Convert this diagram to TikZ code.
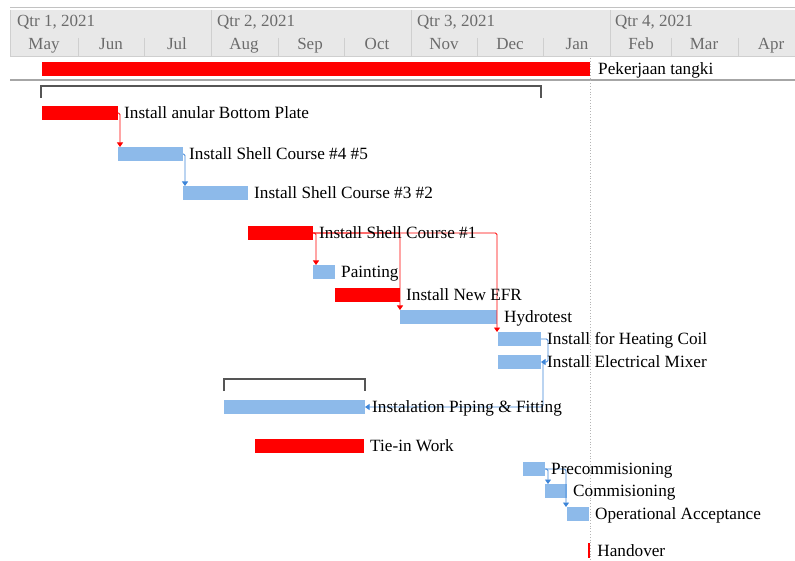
\documentclass[tikz,border=0pt]{standalone}
\usepackage{fontspec}
\setmainfont{Liberation Serif}
\usetikzlibrary{arrows.meta}
\definecolor{barred}{HTML}{FF0000}
\definecolor{barblue}{HTML}{8DBAEA}
\definecolor{linkblue}{HTML}{3D85D8}
\definecolor{hdrbg}{HTML}{E8E8E8}
\definecolor{hdrline}{HTML}{CFCFCF}
\definecolor{hdrtop}{HTML}{C2C2C2}
\definecolor{hdrtext}{HTML}{6B6B6B}
\definecolor{sepline}{HTML}{A6A6A6}
\definecolor{dotline}{HTML}{B4B4B4}
\definecolor{brk}{HTML}{555555}
\begin{document}
\begin{tikzpicture}[x=1pt,y=-1pt,
 bar/.style={rectangle, inner sep=0pt, outer sep=0pt, minimum height=14pt, anchor=north west, draw=none},
 redbar/.style={bar, fill=barred},
 bluebar/.style={bar, fill=barblue},
 lbl/.style={inner sep=0pt, anchor=base west, font=\fontsize{17.2}{19}\selectfont},
 hdrq/.style={inner sep=0pt, anchor=base west, text=hdrtext, font=\fontsize{17}{19}\selectfont},
 hdrm/.style={inner sep=0pt, anchor=base, text=hdrtext, font=\fontsize{17}{19}\selectfont},
 tip/.style={-{Triangle[width=6pt,length=4.5pt]}},
 redlink/.style={draw=barred, line width=0.9pt, tip, rounded corners=1.5pt},
 bluelink/.style={draw=linkblue, line width=0.9pt, tip, rounded corners=1.5pt},
 bracket/.style={draw=brk, line width=2pt},
 qline/.style={draw=hdrline, line width=1pt}]
\useasboundingbox (0,0) rectangle (795,561);
% header
\fill[hdrbg] (10,10) rectangle (795,57);
\draw[hdrtop, line width=1.5pt] (10,7.5) -- (795,7.5);
\draw[qline] (10,10) -- (10,57);
\draw[qline] (10,57) -- (795,57);
\foreach \q in {211,411,610} \draw[qline] (\q,10) -- (\q,57);
\foreach \m in {78,144,278,344,477,543,671,738} \draw[qline] (\m,38) -- (\m,57);
\node[hdrq] (q1) at (17,27) {Qtr 1, 2021};
\node[hdrq] (q2) at (217,27) {Qtr 2, 2021};
\node[hdrq] (q3) at (417,27) {Qtr 3, 2021};
\node[hdrq] (q4) at (615,27) {Qtr 4, 2021};
\node[hdrm] (m1) at (44,50) {May};
\node[hdrm] (m2) at (111,50) {Jun};
\node[hdrm] (m3) at (177,50) {Jul};
\node[hdrm] (m4) at (244,50) {Aug};
\node[hdrm] (m5) at (310,50) {Sep};
\node[hdrm] (m6) at (377,50) {Oct};
\node[hdrm] (m7) at (444,50) {Nov};
\node[hdrm] (m8) at (510,50) {Dec};
\node[hdrm] (m9) at (577,50) {Jan};
\node[hdrm] (m10) at (641,50) {Feb};
\node[hdrm] (m11) at (704,50) {Mar};
\node[hdrm] (m12) at (771,50) {Apr};
% separators
\draw[sepline, line width=1.3pt] (10,80) -- (795,80);
\draw[dotline, dotted, line width=0.8pt] (590,58) -- (590,561);
% brackets
\draw[bracket] (41,98) -- (41,86) -- (541,86) -- (541,98);
\draw[bracket] (224,391) -- (224,379) -- (365,379) -- (365,391);
% bars
\node[redbar, minimum width=548pt] (tank) at (42,62) {};
\node[redbar, minimum width=76pt] (anular) at (42,106) {};
\node[bluebar, minimum width=65pt] (s45) at (118,147) {};
\node[bluebar, minimum width=65pt] (s32) at (183,186) {};
\node[redbar, minimum width=65pt] (s1) at (248,226) {};
\node[bluebar, minimum width=22pt] (paint) at (313,265) {};
\node[redbar, minimum width=65pt] (efr) at (335,288) {};
\node[bluebar, minimum width=97pt] (hydro) at (400,310) {};
\node[bluebar, minimum width=43pt] (hc) at (498,332) {};
\node[bluebar, minimum width=43pt] (em) at (498,355) {};
\node[bluebar, minimum width=141pt] (pipe) at (224,400) {};
\node[redbar, minimum width=109pt] (tie) at (255,439) {};
\node[bluebar, minimum width=22pt] (pre) at (523,462) {};
\node[bluebar, minimum width=22pt] (comm) at (545,484) {};
\node[bluebar, minimum width=22pt] (op) at (567,507) {};
\node[rectangle, inner sep=0pt, fill=barred, minimum width=2pt, minimum height=15pt] (ho) at (589,550) {};
% links
\draw[redlink] (anular.east) -| ([xshift=2pt]s45.north west);
\draw[bluelink] (s45.east) -| ([xshift=2pt]s32.north west);
\draw[redlink] (s1.east) -| ([xshift=3pt]paint.north west);
\draw[redlink] (s1.east) -| (hydro.north west);
\draw[redlink] (s1.east) -| ([xshift=-1pt]hc.north west);
\draw[bluelink] (hc.east) -- ++(7,0) |- (em.east);
\draw[bluelink] ([xshift=2pt]em.east) |- (pipe.east);
\draw[bluelink] (pre.east) -| ([xshift=3pt]comm.north west);
\draw[bluelink] (pre.east) -| ([xshift=-1pt]op.north west);
% labels
\node[lbl] (ltank) at ([xshift=8pt,yshift=-5.5pt]tank.east) {Pekerjaan tangki};
\node[lbl] (lanular) at ([xshift=6pt,yshift=-5.5pt]anular.east) {Install anular Bottom Plate};
\node[lbl] (ls45) at ([xshift=6pt,yshift=-5.5pt]s45.east) {Install Shell Course \#4 \#5};
\node[lbl] (ls32) at ([xshift=6pt,yshift=-5.5pt]s32.east) {Install Shell Course \#3 \#2};
\node[lbl] (ls1) at ([xshift=6pt,yshift=-5.5pt]s1.east) {Install Shell Course \#1};
\node[lbl] (lpaint) at ([xshift=6pt,yshift=-5.5pt]paint.east) {Painting};
\node[lbl] (lefr) at ([xshift=6pt,yshift=-5.5pt]efr.east) {Install New EFR};
\node[lbl] (lhydro) at ([xshift=7pt,yshift=-5.5pt]hydro.east) {Hydrotest};
\node[lbl] (lhc) at ([xshift=6pt,yshift=-5.5pt]hc.east) {Install for Heating Coil};
\node[lbl] (lem) at ([xshift=6pt,yshift=-5.5pt]em.east) {Install Electrical Mixer};
\node[lbl] (lpipe) at ([xshift=7pt,yshift=-5.5pt]pipe.east) {Instalation Piping \& Fitting};
\node[lbl] (ltie) at ([xshift=6pt,yshift=-5.5pt]tie.east) {Tie-in Work};
\node[lbl] (lpre) at ([xshift=6pt,yshift=-5.5pt]pre.east) {Precommisioning};
\node[lbl] (lcomm) at ([xshift=6pt,yshift=-5.5pt]comm.east) {Commisioning};
\node[lbl] (lop) at ([xshift=6pt,yshift=-5.5pt]op.east) {Operational Acceptance};
\node[lbl] (lho) at ([xshift=7pt,yshift=-6pt]ho.east) {Handover};
\end{tikzpicture}
\end{document}
